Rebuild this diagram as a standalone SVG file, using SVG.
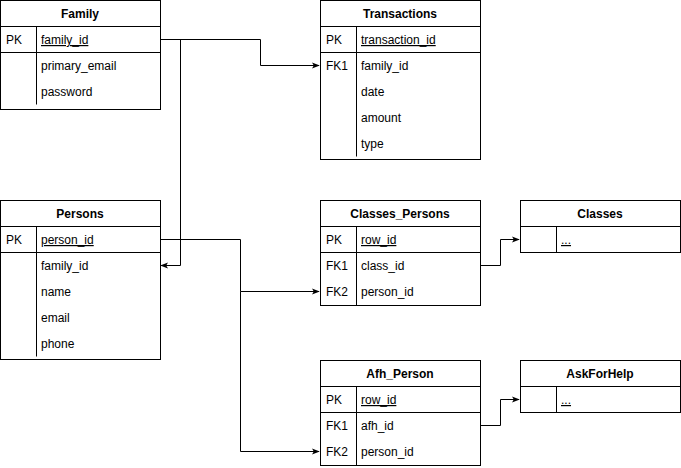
<svg xmlns="http://www.w3.org/2000/svg" width="681" height="468" viewBox="0 0 681 468">
<style>
.box{fill:#fff;stroke:#000;stroke-width:1}
.ln{stroke:#000;stroke-width:1;fill:none}
text{font-family:"Liberation Sans",Arial,sans-serif;font-size:12px;fill:#000}
.h{font-weight:bold;text-anchor:middle}
.u{text-decoration:underline}
.c{stroke:#000;stroke-width:1;fill:none;marker-end:url(#arr)}
</style>
<defs>
<marker id="arr" viewBox="0 0 10 10" refX="9" refY="5" markerWidth="8" markerHeight="8" markerUnits="userSpaceOnUse" orient="auto">
<path d="M0,1 L10,5 L0,9 L2.5,5 Z" fill="#000"/>
</marker>
</defs>
<rect width="681" height="468" fill="#fff"/>
<g id="connectors">
<path class="c" d="M160.5,39.5 H260.5 V65.5 H319"/>
<path class="c" d="M160.5,39.5 H180.5 V265.5 H161"/>
<path class="c" d="M160.5,239.5 H240.5 V291.5 H319"/>
<path class="c" d="M240.5,291.5 V451.5 H319"/>
<path class="c" d="M480.5,265.5 H500.5 V239.5 H519"/>
<path class="c" d="M480.5,425.5 H500.5 V399.5 H519"/>
</g>
<g id="family">
<rect class="box" x="0.5" y="0.5" width="160" height="109"/>
<path class="ln" d="M0.5,26.5 H160.5 M0.5,52.5 H160.5 M36.5,26.5 V104.5"/>
<text class="h" x="80" y="18">Family</text>
<text x="6" y="44">PK</text>
<text class="u" x="41" y="44">family_id</text>
<text x="41" y="70">primary_email</text>
<text x="41" y="96">password</text>
</g>
<g id="transactions">
<rect class="box" x="320.5" y="0.5" width="160" height="159"/>
<path class="ln" d="M320.5,26.5 H480.5 M320.5,52.5 H480.5 M356.5,26.5 V156.5"/>
<text class="h" x="400" y="18">Transactions</text>
<text x="326" y="44">PK</text>
<text class="u" x="361" y="44">transaction_id</text>
<text x="326" y="70">FK1</text>
<text x="361" y="70">family_id</text>
<text x="361" y="96">date</text>
<text x="361" y="122">amount</text>
<text x="361" y="148">type</text>
</g>
<g id="persons">
<rect class="box" x="0.5" y="200.5" width="160" height="159"/>
<path class="ln" d="M0.5,226.5 H160.5 M0.5,252.5 H160.5 M36.5,226.5 V356.5"/>
<text class="h" x="80" y="218">Persons</text>
<text x="6" y="244">PK</text>
<text class="u" x="41" y="244">person_id</text>
<text x="41" y="270">family_id</text>
<text x="41" y="296">name</text>
<text x="41" y="322">email</text>
<text x="41" y="348">phone</text>
</g>
<g id="classes_persons">
<rect class="box" x="320.5" y="200.5" width="160" height="105"/>
<path class="ln" d="M320.5,226.5 H480.5 M320.5,252.5 H480.5 M356.5,226.5 V305.5"/>
<text class="h" x="400" y="218">Classes_Persons</text>
<text x="326" y="244">PK</text>
<text class="u" x="361" y="244">row_id</text>
<text x="326" y="270">FK1</text>
<text x="361" y="270">class_id</text>
<text x="326" y="296">FK2</text>
<text x="361" y="296">person_id</text>
</g>
<g id="classes">
<rect class="box" x="520.5" y="200.5" width="160" height="52"/>
<path class="ln" d="M520.5,226.5 H680.5 M556.5,226.5 V252.5"/>
<text class="h" x="600" y="218">Classes</text>
<text class="u" x="561" y="244">...</text>
</g>
<g id="afh_person">
<rect class="box" x="320.5" y="360.5" width="160" height="105"/>
<path class="ln" d="M320.5,386.5 H480.5 M320.5,412.5 H480.5 M356.5,386.5 V465.5"/>
<text class="h" x="400" y="378">Afh_Person</text>
<text x="326" y="404">PK</text>
<text class="u" x="361" y="404">row_id</text>
<text x="326" y="430">FK1</text>
<text x="361" y="430">afh_id</text>
<text x="326" y="456">FK2</text>
<text x="361" y="456">person_id</text>
</g>
<g id="askforhelp">
<rect class="box" x="520.5" y="360.5" width="160" height="52"/>
<path class="ln" d="M520.5,386.5 H680.5 M556.5,386.5 V412.5"/>
<text class="h" x="600" y="378">AskForHelp</text>
<text class="u" x="561" y="404">...</text>
</g>
</svg>
